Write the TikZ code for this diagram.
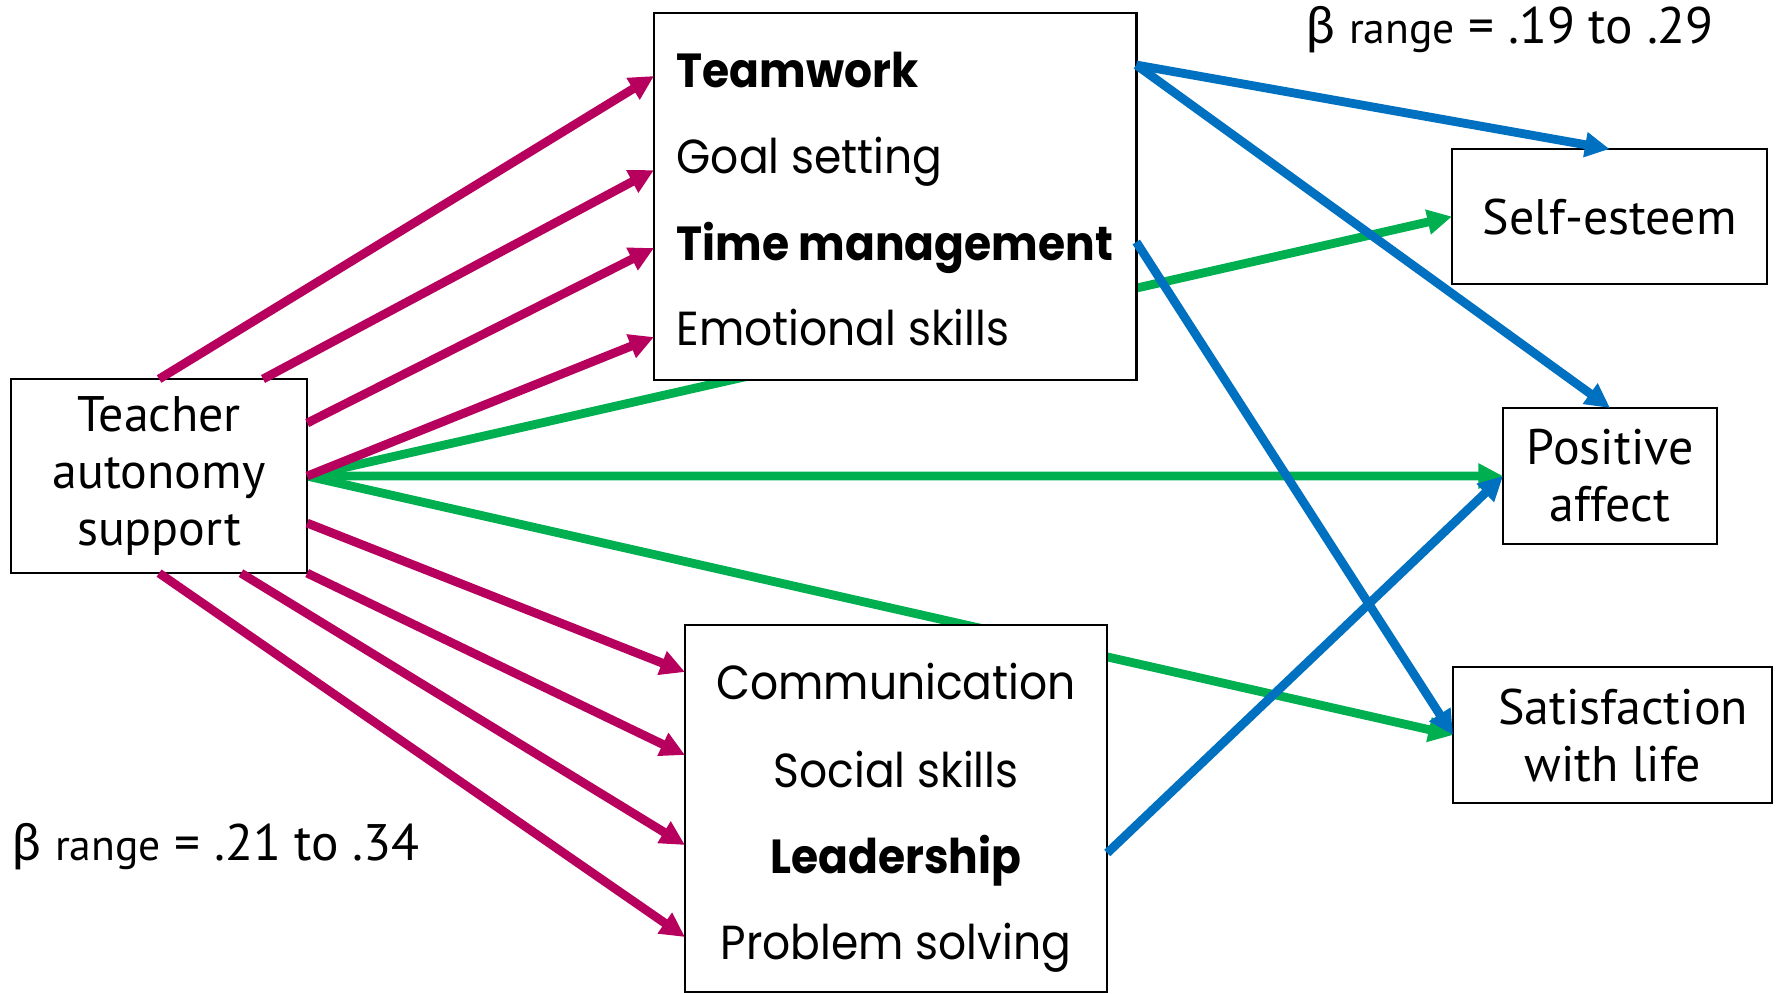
\documentclass[tikz,border=0pt]{standalone}
\usepackage{fontspec}
\setmainfont{Poppins}[FakeStretch = 0.92]
\newfontfamily\twfont{PT Sans}
\newfontfamily\grfont{Lato}
\usetikzlibrary{arrows.meta, calc, backgrounds}

\definecolor{magentapath}{RGB}{183, 0, 94}
\definecolor{greenpath}{RGB}{0, 176, 80}
\definecolor{bluepath}{RGB}{0, 112, 192}

\tikzset{
    varbox/.style = {draw, line width = 0.7pt, fill = white, inner sep = 0pt, outer sep = 0pt, anchor = north west},
    varlabel/.style = {varbox, align = center, font = \twfont\fontsize{14.2}{16.2}\selectfont},
    skill/.style = {inner sep = 0pt, font = \fontsize{13.6}{16}\selectfont},
    effect/.style = {line width = 2.5pt, -{Triangle[length = 7pt, width = 6.8pt]}},
    betalabel/.style = {inner sep = 0pt, anchor = base west, font = \twfont\fontsize{14.6}{16}\selectfont},
}

\begin{document}
\begin{tikzpicture}[x = 0.01cm, y = -0.01cm]
    \useasboundingbox (0, 0) rectangle (1779, 993);

    % predictor
    \node [varlabel, minimum width = 2.96cm, minimum height = 1.94cm] (tas) at (11, 379) {Teacher\\autonomy\\support};

    % life skills
    \node [varbox, minimum width = 4.82cm, minimum height = 3.67cm] (intra) at (654, 13) {};
    \node [skill, anchor = base west] (teamwork) at (676, 87) {\bfseries Teamwork};
    \node [skill, anchor = base west] (goalset) at (676, 173) {Goal setting};
    \node [skill, anchor = base west] (timemgmt) at (676, 260) {\bfseries Time management};
    \node [skill, anchor = base west] (emoskill) at (676, 345) {Emotional skills};

    \node [varbox, minimum width = 4.22cm, minimum height = 3.67cm] (inter) at (685, 625) {};
    \node [skill, anchor = base] (commun) at (896, 699) {Communication};
    \node [skill, anchor = base] (social) at (896, 787) {Social skills};
    \node [skill, anchor = base] (leader) at (896, 873) {\bfseries Leadership};
    \node [skill, anchor = base] (probsolv) at (896, 959) {Problem solving};

    % outcomes
    \node [varlabel, minimum width = 3.15cm, minimum height = 1.35cm] (selfe) at (1452, 149) {Self-esteem};
    \node [varlabel, minimum width = 2.14cm, minimum height = 1.36cm] (posaff) at (1503, 408) {Positive\\affect};
    \node [varlabel, minimum width = 3.19cm, minimum height = 1.36cm] (satis) at (1453, 667) {\hspace{6pt}Satisfaction\\with life};

    \node [betalabel] (betaout) at (1306, 43) {{\grfont β} {\fontsize{12.4}{14}\selectfont range} = .19 to .29};
    \node [betalabel] (betaskill) at (12, 860) {{\grfont β} {\fontsize{12.4}{14}\selectfont range} = .21 to .34};

    % direct effects, behind the skill boxes
    \begin{scope}[on background layer]
        \draw [effect, greenpath] (tas.east) -- (selfe.west);
        \draw [effect, greenpath] (tas.east) -- (posaff.west);
        \draw [effect, greenpath] (tas.east) -- (satis.west);
    \end{scope}

    % predictor -> skills
    \draw [effect, magentapath] (tas.north) -- ($(intra.north west) + (0, 63)$);
    \draw [effect, magentapath] ($(tas.north west) + (252, 0)$) -- ($(intra.north west) + (0, 157)$);
    \draw [effect, magentapath] ($(tas.north east) + (0, 44)$) -- ($(intra.north west) + (0, 235)$);
    \draw [effect, magentapath] (tas.east) -- ($(intra.north west) + (0, 324)$);
    \draw [effect, magentapath] ($(tas.east) + (0, 47)$) -- ($(inter.north west) + (0, 47)$);
    \draw [effect, magentapath] (tas.south east) -- ($(inter.north west) + (0, 130)$);
    \draw [effect, magentapath] ($(tas.south west) + (230, 0)$) -- ($(inter.north west) + (0, 220)$);
    \draw [effect, magentapath] (tas.south) -- ($(inter.north west) + (0, 312)$);

    % skills -> outcomes
    \draw [effect, bluepath] ($(intra.north east) + (0, 52)$) -- (selfe.north);
    \draw [effect, bluepath] ($(intra.north east) + (0, 52)$) -- (posaff.north);
    \draw [effect, bluepath] ($(intra.north east) + (0, 229)$) -- (satis.west);
    \draw [effect, bluepath] ($(inter.north east) + (0, 228)$) -- (posaff.west);

\end{tikzpicture}
\end{document}
